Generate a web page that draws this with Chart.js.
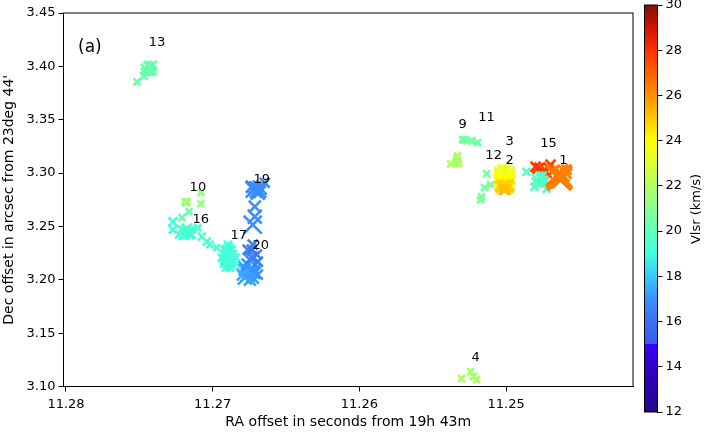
<!DOCTYPE html>
<html>
<head>
<meta charset="utf-8">
<script src="https://cdn.jsdelivr.net/npm/chart.js@4"></script>
<style>
body { margin: 0; background: #fff; overflow: hidden; }
canvas { position: absolute; top: 0; }
#mainChart { left: 0; }
#barChart { left: 636px; }
</style>
</head>
<body>
<canvas id="mainChart" width="707" height="436"></canvas>
<canvas id="barChart" width="71" height="436"></canvas>
<script>
// maser spots, in draw order
var raOffset = [
  11.27516, 11.27469, 11.27448, 11.27435, 11.27414, 11.27455, 11.27428, 11.27421, 11.27462, 11.27442, 11.27408, // 13
  11.25378, 11.25337, 11.25330, 11.25324, 11.25337, 11.25344, // 9
  11.25296, 11.25283, 11.25269, 11.25235, 11.25194, // 11
  11.25133, 11.25106, 11.25147, 11.25167, 11.25174, // 12
  11.25024, 11.24997, 11.25051, 11.24970, 11.25024, 11.24997, 11.25051, 11.24970,
  11.25038, 11.24983, 11.25010, 11.25038, 11.24983, 11.25010, 11.25031, 11.24990, 11.25010,
  11.25024, 11.24997, 11.25024, 11.24990, 11.25010, 11.25031, 11.24990, 11.25010,
  11.25044, 11.24976, 11.25017, 11.25003, // 2, 3
  11.24786, 11.24752, 11.24711, 11.24731, 11.24684, 11.24772, 11.24738, 11.24697, 11.24799, // 15 red
  11.24861, 11.24806, 11.24799, 11.24786, 11.24765, 11.24752, 11.24738, 11.24724,
  11.24779, 11.24758, 11.24772, 11.24745, // 15
  11.24636, 11.24656, 11.24622, 11.24650, 11.24622, 11.24602, 11.24588, // 1
  11.25303, 11.25242, 11.25222, 11.25201, // 4
  11.27081, 11.27081, 11.27190, 11.27176, 11.27183, 11.27162, 11.27210, // 10
  11.27271, 11.27271, 11.27210, 11.27169, 11.27190, 11.27142, 11.27101, 11.27074, 11.27040, 11.27019, 11.26972,
  11.27196, 11.27176, 11.27149, 11.27203, 11.27230, // 16
  11.26917, 11.26870, 11.26897, 11.26917, 11.26870, 11.26897, 11.26842, 11.26890, 11.26924, 11.26883,
  11.26897, 11.26870, 11.26924, 11.26876, 11.26842, 11.26910, 11.26897, 11.26938, // 17
  11.26761, 11.26727, 11.26699, 11.26747, 11.26713, 11.26781, 11.26727, 11.26761, 11.26781, 11.26727,
  11.26781, 11.26747, 11.26713, 11.26761, 11.26733, 11.26795, 11.26692, 11.26747, 11.26692, 11.26733, // 20
  11.26727, 11.26713, 11.26713, 11.26692, 11.26713, 11.26679, 11.26645, 11.26720, 11.26679, 11.26692, 11.26733 // 19
];
var decOffset = [
  3.3855, 3.3911, 3.3948, 3.3995, 3.4005, 3.3976, 3.3948, 3.3967, 3.3948, 3.4014, 3.3958,
  3.3087, 3.3143, 3.3162, 3.3087, 3.3115, 3.3097,
  3.3312, 3.3312, 3.3303, 3.3303, 3.3284,
  3.2994, 3.2891, 3.2863, 3.2778, 3.2750,
  3.3031, 3.3031, 3.2994, 3.2994, 3.2984, 3.2984, 3.2938, 3.2938,
  3.3003, 3.3003, 3.3022, 3.2956, 3.2956, 3.2975, 3.2919, 3.2919, 3.2938,
  3.2928, 3.2928, 3.2891, 3.2891, 3.2881, 3.2872, 3.2872, 3.2853,
  3.2881, 3.2881, 3.2844, 3.2844,
  3.3040, 3.3012, 3.3050, 3.3012, 3.3012, 3.3050, 3.3031, 3.3078, 3.3059,
  3.3012, 3.2872, 3.2919, 3.2938, 3.2956, 3.2975, 3.2919, 3.2853,
  3.2900, 3.2909, 3.2975, 3.2938,
  3.2956, 3.2975, 3.2994, 3.2975, 3.2956, 3.3012, 3.3031,
  3.1075, 3.1140, 3.1094, 3.1066,
  3.2816, 3.2713, 3.2732, 3.2732, 3.2722, 3.2638, 3.2582,
  3.2544, 3.2470, 3.2470, 3.2441, 3.2423, 3.2470, 3.2488, 3.2404, 3.2357, 3.2329, 3.2301,
  3.2460, 3.2479, 3.2432, 3.2413, 3.2423,
  3.2282, 3.2282, 3.2236, 3.2189, 3.2189, 3.2151, 3.2207, 3.2310, 3.2236, 3.2114,
  3.2282, 3.2236, 3.2151, 3.2151, 3.2151, 3.2114, 3.2329, 3.2207,
  3.2282, 3.2329, 3.2236, 3.2189, 3.2142, 3.2114, 3.2076, 3.2048, 3.2020, 3.2020,
  3.2095, 3.2076, 3.2067, 3.2142, 3.2207, 3.2048, 3.2048, 3.2002, 3.2170, 3.2282,
  3.2516, 3.2591, 3.2685, 3.2844, 3.2863, 3.2825, 3.2909, 3.2844, 3.2863, 3.2816, 3.2872
];
var vlsr = [
  20.4, 20.3, 20.2, 20.2, 20.2, 20.2, 20.2, 20.2, 20.2, 20.2, 20.2,
  21.9, 21.9, 21.9, 21.9, 21.9, 21.9,
  20.5, 20.5, 20.5, 20.5, 20.5,
  20.6, 20.6, 20.6, 20.7, 20.7,
  23.3, 23.3, 23.4, 23.4, 23.5, 23.5, 23.8, 23.8,
  23.4, 23.4, 23.5, 23.6, 23.6, 23.6, 24, 24, 24,
  24, 24, 24.6, 24.6, 24.8, 25, 25, 25.2,
  24.7, 24.7, 25.2, 25.2,
  27.8, 27.8, 27.6, 27.6, 27, 27.8, 27.6, 27.6, 27.8,
  19.8, 19.7, 19.6, 19.5, 19.5, 19.5, 19.6, 19.7,
  19.7, 19.7, 19.7, 19.7,
  26.4, 26.6, 26.3, 26.5, 26.4, 26.3, 26.3,
  21.8, 21.8, 21.8, 21.8,
  21.2, 21.2, 21.5, 21.5, 21.5, 20.3, 20.2,
  19.2, 19.2, 19.3, 19.3, 19.3, 19.3, 19.4, 19.4, 19.4, 19.4, 19.5,
  19.3, 19.3, 19.3, 19.3, 19.3,
  19.3, 19.3, 19.2, 19.2, 19.2, 19.2, 19.3, 19.3, 19.3, 19.2,
  19.1, 19.1, 19.1, 19.1, 19.1, 19.1, 19.1, 19.1,
  16.5, 16.4, 16.4, 16.8, 16.8, 17.4, 16.9, 17.3, 17.4, 17.2,
  17.3, 17.2, 17, 17, 16.5, 17.5, 17, 17.3, 16.5, 16.3,
  16.9, 16.9, 16.9, 16.8, 16.8, 16.8, 17, 16.8, 16.8, 16.8, 16.8
];
var flux = [
  3.5, 4, 4, 5, 5, 5, 4, 4.5, 4, 4, 4,
  3.5, 3.5, 3.5, 3.5, 3.5, 3.5,
  3.5, 3.5, 3.5, 3.5, 3.5,
  3.5, 3.5, 3.5, 3.5, 3.5,
  5, 5, 5, 5, 5, 5, 5, 5,
  6, 6, 6, 6, 6, 6, 6, 6, 6,
  5, 5, 6, 6, 6, 6, 6, 6,
  5, 5, 5, 5,
  5, 5, 5, 6, 7, 5, 5, 5, 5,
  4, 4, 4, 5, 5, 4, 4, 4,
  4, 4, 4, 4,
  12, 9, 8, 11, 10, 7, 5,
  3.5, 3.5, 3.5, 3.5,
  3.5, 3.5, 3.5, 3.5, 3.5, 3.5, 3.5,
  4.5, 4, 4, 6, 5, 4, 3.5, 4, 4, 3.5, 3.5,
  5, 5, 5, 4, 4,
  4, 4, 6, 5, 6, 5, 4, 4, 4, 4,
  5, 5, 4, 5, 4, 4, 4, 4,
  5, 5, 5, 6, 5, 6, 7, 7, 7, 6,
  6, 7, 6, 6, 6, 6, 5, 6, 5, 5,
  9, 7, 6, 8, 6, 6, 5, 8, 7, 7, 6
];

// feature numbers and where they sit
var featureText = ["13", "9", "11", "3", "15", "12", "2", "1", "19", "10", "16", "17", "20", "4", "(a)"];
var featureRa = [11.27380, 11.25296, 11.25133, 11.24976, 11.24711, 11.25085, 11.24976, 11.24609, 11.26665, 11.27101, 11.27081, 11.26822, 11.26672, 11.25208, 11.27837];
var featureDec = [3.4220, 3.3453, 3.3518, 3.3294, 3.3275, 3.3163, 3.3116, 3.3116, 3.2938, 3.2863, 3.2563, 3.2414, 3.2320, 3.1272, 3.4173];

var raTicks = [11.28, 11.27, 11.26, 11.25];
var decTicks = [3.10, 3.15, 3.20, 3.25, 3.30, 3.35, 3.40, 3.45];
var vlsrTicks = [12, 14, 16, 18, 20, 22, 24, 26, 28, 30];

// colour ramp of the bar, 15 is listed twice because the ramp jumps there
var rampVel = [12, 14, 15, 15, 16, 17, 18, 19, 20, 21, 22, 23, 24, 25, 26, 27, 28, 29, 30];
var rampRgb = [
  [34, 10, 136], [50, 0, 200], [60, 0, 255], [58, 90, 240], [58, 112, 240], [58, 146, 255],
  [56, 200, 255], [64, 255, 224], [96, 255, 184], [136, 255, 144], [176, 255, 96], [224, 255, 48],
  [255, 255, 0], [255, 200, 0], [255, 144, 0], [255, 96, 0], [255, 48, 0], [208, 20, 0], [128, 16, 0]
];

function velColor(v)
{
  for (var i = 1; i < rampVel.length; i++) {
    if (v <= rampVel[i] && rampVel[i] > rampVel[i - 1]) {
      var t = (v - rampVel[i - 1]) / (rampVel[i] - rampVel[i - 1]);
      var a = rampRgb[i - 1], b = rampRgb[i];
      return "rgb(" + Math.round(a[0] + (b[0] - a[0]) * t) + "," + Math.round(a[1] + (b[1] - a[1]) * t) + "," + Math.round(a[2] + (b[2] - a[2]) * t) + ")";
    }
  }
  return "rgb(128,16,0)";
}

var FONT = "'DejaVu Sans'";
Chart.defaults.font.family = FONT;
Chart.defaults.font.size = 13;
Chart.defaults.color = "#000";

// black box round the plot area
var framePlugin = {
  id: "frame",
  afterDatasetsDraw: function (chart)
  {
    var a = chart.chartArea, ctx = chart.ctx;
    ctx.save();
    ctx.strokeStyle = "#000";
    ctx.lineWidth = 1;
    ctx.strokeRect(a.left, a.top, a.right - a.left, a.bottom - a.top);
    ctx.restore();
  }
};

// feature numbers on top of the crosses
var featurePlugin = {
  id: "features",
  afterDatasetsDraw: function (chart)
  {
    var ctx = chart.ctx, sx = chart.scales.x, sy = chart.scales.y;
    ctx.save();
    ctx.fillStyle = "#000";
    ctx.textAlign = "center";
    ctx.textBaseline = "middle";
    for (var i = 0; i < featureText.length; i++) {
      ctx.font = (featureText[i] == "(a)" ? "17px " : "13px ") + FONT;
      ctx.fillText(featureText[i], sx.getPixelForValue(featureRa[i]), sy.getPixelForValue(featureDec[i]));
    }
    ctx.restore();
  }
};

// bar title reads upwards, the right hand scale title would read downwards
var barTitlePlugin = {
  id: "barTitle",
  afterDraw: function (chart)
  {
    var ctx = chart.ctx;
    ctx.save();
    ctx.translate(61, 209);
    ctx.rotate(-Math.PI / 2);
    ctx.fillStyle = "#000";
    ctx.font = "13px " + FONT;
    ctx.textAlign = "center";
    ctx.textBaseline = "middle";
    ctx.fillText("Vlsr (km/s)", 0, 0);
    ctx.restore();
  }
};

var points = [];
for (var i = 0; i < raOffset.length; i++) {
  points.push({ x: raOffset[i], y: decOffset[i] });
}
var spotColors = vlsr.map(velColor);

function fixTicks(list)
{
  return function (scale)
  {
    scale.ticks = list.map(function (v) { return { value: v }; });
  };
}

new Chart(document.getElementById("mainChart"), {
  type: "scatter",
  data: {
    datasets: [{
      data: points,
      pointStyle: "crossRot",
      pointRadius: flux.map(function (f) { return f * 1.41; }),
      pointBorderWidth: flux.map(function (f) { return f >= 10 ? 4.5 : 2.6; }),
      pointBorderColor: spotColors,
      pointBackgroundColor: spotColors
    }]
  },
  plugins: [framePlugin, featurePlugin],
  options: {
    responsive: false,
    animation: false,
    devicePixelRatio: 1,
    layout: { autoPadding: false, padding: { left: 0, top: 13, right: 74, bottom: 0 } },
    plugins: { legend: { display: false }, tooltip: { enabled: false } },
    scales: {
      x: {
        type: "linear",
        reverse: true,
        min: 11.24135,
        max: 11.28017,
        afterBuildTicks: fixTicks(raTicks),
        afterFit: function (s) { s.height = 49.5; s.paddingLeft = 0; s.paddingRight = 0; },
        grid: { drawOnChartArea: false, tickLength: 5, color: "#000" },
        border: { color: "#000" },
        ticks: { maxRotation: 0, padding: 5, callback: function (v) { return v.toFixed(2); } },
        title: { display: true, text: "RA offset in seconds from 19h 43m", font: { size: 14 }, padding: { top: 0, bottom: 5 } }
      },
      y: {
        type: "linear",
        min: 3.10,
        max: 3.45,
        afterBuildTicks: fixTicks(decTicks),
        afterFit: function (s) { s.width = 63.5; s.paddingTop = 0; s.paddingBottom = 0; },
        grid: { drawOnChartArea: false, tickLength: 5, color: "#000" },
        border: { color: "#000" },
        ticks: { padding: 3, callback: function (v) { return v.toFixed(2); } },
        title: { display: true, text: "Dec offset in arcsec from 23deg 44'", font: { size: 14 }, padding: { top: 1, bottom: 0 } }
      }
    }
  }
});

new Chart(document.getElementById("barChart"), {
  type: "bar",
  data: {
    labels: ["Vlsr"],
    datasets: [{
      data: [[12, 30]],
      barPercentage: 1,
      categoryPercentage: 1,
      backgroundColor: function (c)
      {
        var chart = c.chart;
        if (!chart.chartArea) return "#000";
        var sy = chart.scales.y;
        var g = chart.ctx.createLinearGradient(0, sy.getPixelForValue(12), 0, sy.getPixelForValue(30));
        for (var i = 0; i < rampVel.length; i++) {
          g.addColorStop((rampVel[i] - 12) / 18, "rgb(" + rampRgb[i].join(",") + ")");
        }
        return g;
      }
    }]
  },
  plugins: [framePlugin, barTitlePlugin],
  options: {
    responsive: false,
    animation: false,
    devicePixelRatio: 1,
    layout: { autoPadding: false, padding: { left: 8.5, top: 5, right: 0, bottom: 24 } },
    plugins: { legend: { display: false }, tooltip: { enabled: false } },
    scales: {
      x: { display: false },
      y: {
        position: "right",
        min: 12,
        max: 30,
        afterBuildTicks: fixTicks(vlsrTicks),
        afterFit: function (s) { s.width = 49.5; s.paddingTop = 0; s.paddingBottom = 0; },
        grid: { drawOnChartArea: false, tickLength: 5, color: "#000" },
        border: { color: "#000" },
        ticks: { padding: 3 }
      }
    }
  }
});
</script>
</body>
</html>
